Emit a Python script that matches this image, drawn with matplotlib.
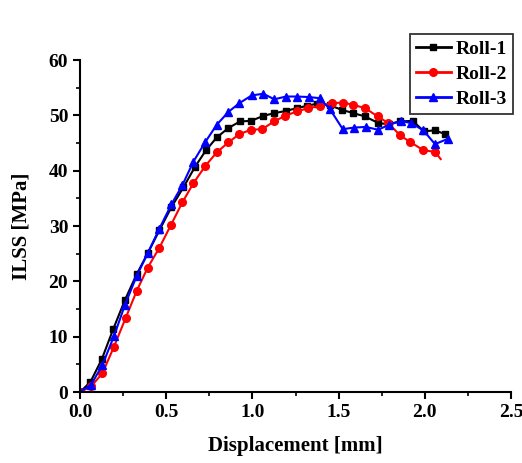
import matplotlib
matplotlib.use("Agg")
import matplotlib.pyplot as plt
from matplotlib.ticker import MultipleLocator

# Data
roll1_x = [0, 0.06, 0.126, 0.193, 0.26, 0.329, 0.393, 0.46, 0.53, 0.6, 0.667, 0.731, 0.793, 0.86,
           0.928, 0.992, 1.063, 1.127, 1.195, 1.257, 1.315, 1.373, 1.45, 1.518, 1.585, 1.653,
           1.731, 1.79, 1.856, 1.93, 1.995, 2.059, 2.117]
roll1_y = [0, 1.8, 5.9, 11.4, 16.6, 21.3, 25.1, 29.2, 33.4, 37.0, 40.7, 43.7, 46.0, 47.7,
           48.9, 49.0, 49.9, 50.4, 50.8, 51.3, 51.7, 52.1, 51.8, 51.0, 50.4, 49.8,
           48.6, 48.4, 48.9, 49.0, 47.1, 47.3, 46.6]

roll2_x = [0, 0.064, 0.13, 0.197, 0.265, 0.329, 0.393, 0.459, 0.526, 0.594, 0.657, 0.725, 0.793,
           0.86, 0.924, 0.992, 1.057, 1.125, 1.189, 1.257, 1.324, 1.392, 1.46, 1.524, 1.585,
           1.653, 1.727, 1.788, 1.856, 1.914, 1.991, 2.059, 2.092]
roll2_y = [0, 1.0, 3.4, 8.2, 13.4, 18.3, 22.5, 26.0, 30.1, 34.3, 37.7, 40.8, 43.3,
           45.1, 46.6, 47.4, 47.5, 48.9, 49.9, 50.7, 51.3, 51.7, 52.2, 52.3, 51.9,
           51.3, 49.8, 48.6, 46.4, 45.2, 43.7, 43.4, 42.1]

roll3_x = [0, 0.064, 0.13, 0.197, 0.26, 0.329, 0.393, 0.46, 0.53, 0.594, 0.657, 0.725, 0.793,
           0.86, 0.924, 0.996, 1.063, 1.127, 1.195, 1.257, 1.33, 1.39, 1.45, 1.524, 1.591,
           1.659, 1.728, 1.795, 1.86, 1.92, 1.991, 2.059, 2.137]
roll3_y = [0, 1.3, 4.9, 10.1, 15.7, 21.0, 25.1, 29.5, 33.9, 37.4, 41.6, 45.1, 48.3,
           50.6, 52.2, 53.6, 53.9, 52.9, 53.4, 53.4, 53.3, 53.1, 51.1, 47.5, 47.8,
           47.9, 47.4, 48.3, 49.0, 48.6, 47.3, 44.8, 45.8]

labels = ["Roll-1", "Roll-2", "Roll-3"]

plt.rcParams['font.family'] = ['Liberation Serif', 'DejaVu Serif']
plt.rcParams['font.weight'] = 'bold'

fig = plt.figure(figsize=(5.22, 4.63), dpi=100)
ax = fig.add_axes([0.1533, 0.1533, 0.8257, 0.7171])

ax.plot(roll1_x, roll1_y, color='black', marker='s', markersize=5, linewidth=1.5,
        label=labels[0])
ax.plot(roll2_x, roll2_y, color='red', marker='o', markersize=5.5, linewidth=1.5,
        label=labels[1], markevery=slice(0, len(roll2_x) - 1))
ax.plot(roll3_x, roll3_y, color='blue', marker='^', markersize=6, linewidth=1.5,
        label=labels[2])

ax.set_xlim(0, 2.5)
ax.set_ylim(0, 60)
ax.xaxis.set_major_locator(MultipleLocator(0.5))
ax.xaxis.set_minor_locator(MultipleLocator(0.25))
ax.yaxis.set_major_locator(MultipleLocator(10))
ax.yaxis.set_minor_locator(MultipleLocator(5))
ax.set_xticks([0, 0.5, 1.0, 1.5, 2.0, 2.5])
ax.set_xticklabels(["0.0", "0.5", "1.0", "1.5", "2.0", "2.5"])

for s in ['top', 'right']:
    ax.spines[s].set_visible(False)
for s in ['left', 'bottom']:
    ax.spines[s].set_linewidth(1.5)

ax.tick_params(which='major', direction='out', length=5, width=1.5, labelsize=14)
ax.tick_params(which='minor', direction='out', length=3, width=1.2)
for lab in ax.get_xticklabels() + ax.get_yticklabels():
    lab.set_fontweight('bold')

ax.set_xlabel("Displacement [mm]", fontsize=15, fontweight='bold', labelpad=11)
ax.set_ylabel("ILSS [MPa]", fontsize=15, fontweight='bold', labelpad=12)

leg = ax.legend(loc='upper right', bbox_to_anchor=(0.982, 0.926), bbox_transform=fig.transFigure,
                frameon=True, fancybox=False, prop={'weight': 'bold', 'size': 14},
                handlelength=1.8, handletextpad=0.25, borderpad=0.3, labelspacing=0.38,
                borderaxespad=0)
leg.get_frame().set_edgecolor('black')
leg.get_frame().set_linewidth(1.3)
for line in leg.get_lines():
    line.set_linewidth(2.0)

fig.savefig("out.png", dpi=100)
